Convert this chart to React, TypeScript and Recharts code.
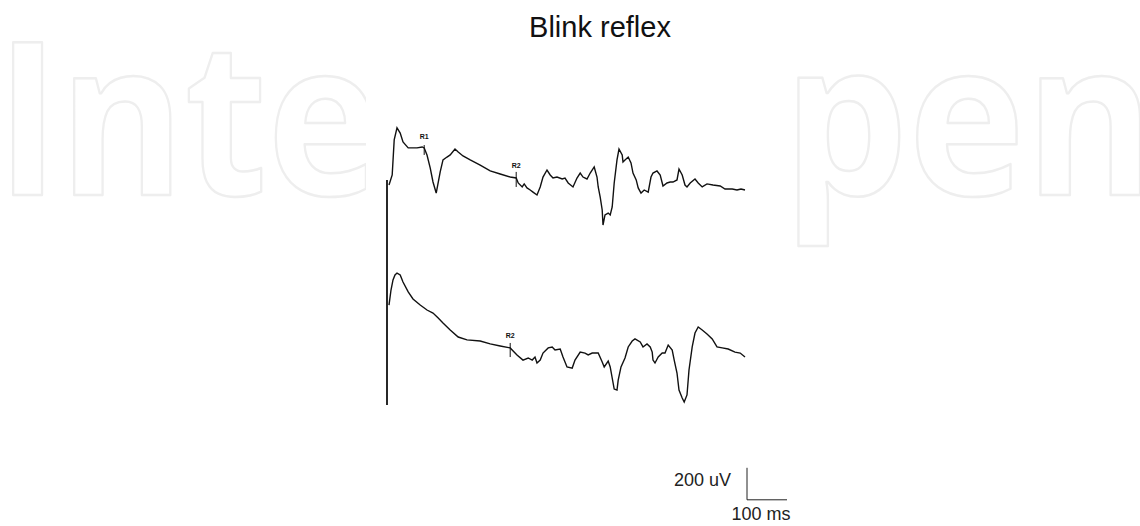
import React from 'react';
import { LineChart, Line, XAxis, YAxis, ReferenceLine } from 'recharts';

// ---- chart data (time in ms after stimulus, amplitude in uV) ----
const TITLE = 'Blink reflex';

const upperTime = [5, 13, 18, 25, 33, 40, 53, 63, 75, 88, 93, 100, 108, 115, 123, 133, 140, 150, 158, 170, 178, 190, 208, 233, 258, 283, 308, 323, 328, 338, 343, 350, 358, 365, 375, 383, 390, 400, 408, 415, 425, 438, 445, 453, 465, 475, 483, 490, 500, 508, 518, 525, 528, 533, 538, 540, 545, 553, 558, 563, 568, 575, 580, 588, 590, 595, 603, 610, 615, 623, 628, 635, 643, 653, 660, 665, 675, 683, 690, 700, 708, 715, 725, 730, 738, 745, 750, 758, 770, 778, 788, 800, 815, 833, 845, 863, 875, 885, 895];
const upperAmp = [31, 94, 313, 388, 356, 300, 263, 263, 263, 269, 263, 219, 138, 50, -19, 113, 188, 206, 219, 256, 238, 213, 188, 156, 119, 100, 81, 75, 44, 19, 38, 13, 0, -13, -31, 19, 81, 125, 94, 75, 81, 69, 75, 44, 19, 75, 106, 81, 69, 106, 144, 81, 19, -44, -125, -219, -156, -144, -156, -106, 44, 188, 256, 219, 175, 188, 206, 169, 106, 63, 13, -19, 0, -13, 81, 106, 119, 94, 25, 44, 50, 50, 63, 131, 94, 31, 19, 44, 69, 44, 19, 38, 31, 25, 6, 6, 0, 6, 0];

const lowerTime = [5, 10, 15, 20, 25, 33, 40, 53, 65, 83, 100, 115, 128, 140, 158, 178, 200, 233, 258, 283, 308, 325, 340, 353, 363, 370, 375, 383, 390, 403, 413, 420, 433, 440, 450, 463, 470, 483, 495, 503, 513, 528, 538, 543, 553, 558, 563, 568, 575, 578, 585, 595, 603, 613, 620, 633, 640, 650, 658, 663, 665, 670, 678, 688, 695, 703, 713, 718, 725, 730, 738, 743, 750, 755, 763, 770, 778, 788, 800, 813, 825, 838, 853, 870, 883, 895];
const lowerAmp = [281, 375, 438, 469, 481, 469, 425, 363, 319, 281, 250, 231, 200, 169, 125, 81, 63, 56, 38, 25, 13, -31, -63, -50, -63, -44, -81, -63, -19, 13, 19, 0, 6, -44, -106, -113, -63, -13, -19, -31, -19, -19, -75, -106, -69, -106, -175, -244, -250, -188, -106, -50, 19, 56, 69, 50, 19, 38, 19, -13, -63, -81, -44, -19, -19, 31, 0, -63, -144, -250, -300, -325, -281, -125, 19, 106, 144, 125, 100, 69, 19, 13, 6, -13, -19, -44];

// latency markers: label, channel, time (ms), tick ends (uV, relative to channel baseline)
const markerLabels = ['R1', 'R2', 'R2'];
const markerChannel = [0, 0, 1];
const markerTime = [93, 323, 308];
const markerTickTop = [281, 113, 44];
const markerTickBottom = [219, 19, -44];

// stimulus artefact at t = 0 (top relative to channel 1, bottom relative to channel 2)
const STIM_TIME = 0;
const STIM_TOP = 63;
const STIM_BOTTOM = -344;

// calibration bar
const SCALE_TIME = 100; // ms
const SCALE_AMP = 200; // uV
const SCALE_LABEL_T = '100 ms';
const SCALE_LABEL_V = '200 uV';
const SCALE_ORIGIN_T = 900;
const SCALE_ORIGIN_V = -1480;

// ---- layout ----
const W = 1140;
const H = 526;
const CH_OFFSET = [456.25, -543.75];
const X_DOMAIN: [number, number] = [-967.5, 1882.5];
const Y_DOMAIN: [number, number] = [-1643.75, 1643.75];
const FONT = "'Liberation Sans', Arial, Helvetica, sans-serif";
const INK = '#111';

const upperData = upperTime.map((t, i) => ({ t, v: upperAmp[i] + CH_OFFSET[0] }));
const lowerData = lowerTime.map((t, i) => ({ t, v: lowerAmp[i] + CH_OFFSET[1] }));

const markerLabel = (text: string, gap: number) => (props: any) => {
  const vb = props.viewBox || {};
  return (
    <text x={vb.x} y={vb.y - gap} textAnchor="middle" fontSize={7} fontWeight="bold" fontFamily={FONT} fill={INK}>
      {text}
    </text>
  );
};

const vLabel = (props: any) => {
  const vb = props.viewBox || {};
  return (
    <text x={vb.x - 16} y={vb.y + 18} textAnchor="end" fontSize={18} fontFamily={FONT} fill="#222">
      {SCALE_LABEL_V}
    </text>
  );
};

const tLabel = (props: any) => {
  const vb = props.viewBox || {};
  return (
    <text x={vb.x + (vb.width || 0) / 2 - 6} y={vb.y + 20} textAnchor="middle" fontSize={18} fontFamily={FONT} fill="#222">
      {SCALE_LABEL_T}
    </text>
  );
};

const markerGaps = [6, 4, 5];

export default function App() {
  return (
    <div style={{ position: 'absolute', left: 0, top: 0, width: W, height: H, background: '#fff', overflow: 'hidden' }}>
      <svg width={W} height={H} style={{ position: 'absolute', left: 0, top: 0 }}>
        <g fill="none" stroke="#eeeeee" strokeWidth={2.5} strokeLinejoin="round">
          <text x={-4} y={195} fontSize={214} fontWeight={700} fontFamily="'Open Sans', Inter, sans-serif" textLength={384} lengthAdjust="spacingAndGlyphs">
            Inte
          </text>
          <text x={783} y={195} fontSize={214} fontWeight={700} fontFamily="'Open Sans', Inter, sans-serif" textLength={372} lengthAdjust="spacingAndGlyphs">
            pen
          </text>
        </g>
        <rect x={366} y={0} width={426} height={H} fill="#fff" />
        <text x={600} y={37} textAnchor="middle" fontSize={29} fontFamily={FONT} fill="#111">
          {TITLE}
        </text>
      </svg>
      <div style={{ position: 'absolute', left: 0, top: 0 }}>
        <LineChart width={W} height={H} margin={{ top: 0, right: 0, bottom: 0, left: 0 }}>
          <XAxis type="number" dataKey="t" domain={X_DOMAIN} hide allowDataOverflow />
          <YAxis type="number" domain={Y_DOMAIN} hide allowDataOverflow width={0} />
          <ReferenceLine
            segment={[{ x: STIM_TIME, y: STIM_TOP + CH_OFFSET[0] }, { x: STIM_TIME, y: STIM_BOTTOM + CH_OFFSET[1] }]}
            stroke={INK}
            strokeWidth={1.8}
            ifOverflow="visible"
          />
          <Line data={upperData} dataKey="v" type="linear" stroke={INK} strokeWidth={1.4} dot={false} activeDot={false} isAnimationActive={false} />
          <Line data={lowerData} dataKey="v" type="linear" stroke={INK} strokeWidth={1.4} dot={false} activeDot={false} isAnimationActive={false} />
          {markerLabels.map((lab, i) => (
            <ReferenceLine
              key={'m' + i}
              segment={[
                { x: markerTime[i], y: markerTickTop[i] + CH_OFFSET[markerChannel[i]] },
                { x: markerTime[i], y: markerTickBottom[i] + CH_OFFSET[markerChannel[i]] },
              ]}
              stroke={INK}
              strokeWidth={1}
              ifOverflow="visible"
              label={markerLabel(lab, markerGaps[i])}
            />
          ))}
          <ReferenceLine
            segment={[{ x: SCALE_ORIGIN_T, y: SCALE_ORIGIN_V }, { x: SCALE_ORIGIN_T, y: SCALE_ORIGIN_V + SCALE_AMP }]}
            stroke="#222"
            strokeWidth={1}
            ifOverflow="visible"
            label={vLabel}
          />
          <ReferenceLine
            segment={[{ x: SCALE_ORIGIN_T, y: SCALE_ORIGIN_V }, { x: SCALE_ORIGIN_T + SCALE_TIME, y: SCALE_ORIGIN_V }]}
            stroke="#222"
            strokeWidth={1}
            ifOverflow="visible"
            label={tLabel}
          />
        </LineChart>
      </div>
    </div>
  );
}
